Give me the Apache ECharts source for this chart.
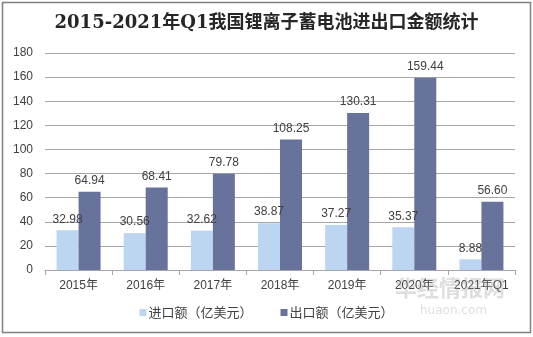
<!DOCTYPE html>
<html><head><meta charset="utf-8">
<script src="https://cdn.jsdelivr.net/npm/echarts@6/dist/echarts.min.js"></script>
<style>html,body{margin:0;padding:0;background:#fff}#c{width:533px;height:337px}</style>
</head><body><div id="c"></div>
<script>
var categories = ['2015年','2016年','2017年','2018年','2019年','2020年','2021年Q1'];
var importVals = [32.98, 30.56, 32.62, 38.87, 37.27, 35.37, 8.88];
var exportVals = [64.94, 68.41, 79.78, 108.25, 130.31, 159.44, 56.60];
var seriesNames = ['进口额（亿美元）', '出口额（亿美元）'];
var titleText = '2015-2021年Q1我国锂离子蓄电池进出口金额统计';

var chart = echarts.init(document.getElementById('c'), null, {renderer:'canvas'});
var lblStyle = {show:true, position:'top', distance:5, color:'#404040', fontSize:12,
  fontFamily:'Liberation Sans, Arial, sans-serif', formatter:function(p){return p.value.toFixed(2);}};
chart.setOption({
  animation:false,
  backgroundColor:'#fff',
  title:{text:titleText, left:'center', top:9,
    textStyle:{fontSize:18, fontWeight:'bold', color:'#262626', fontFamily:'DejaVu Serif, Noto Sans CJK SC, serif'}},
  grid:{left:45, right:18, top:53, bottom:67, containLabel:false},
  legend:{bottom:13, left:'center', itemWidth:7, itemHeight:7, itemGap:28, icon:'rect',
    textStyle:{fontSize:13, color:'#404040', fontFamily:'Noto Sans CJK SC, sans-serif', padding:[0,0,0,-3]},
    data:seriesNames},
  xAxis:{type:'category', data:categories,
    axisLine:{lineStyle:{color:'#a6a6a6'}},
    axisTick:{show:true, length:5, lineStyle:{color:'#a6a6a6'}},
    axisLabel:{color:'#404040', fontSize:12, margin:10, interval:0, fontFamily:'Liberation Sans, Noto Sans CJK SC, sans-serif'}},
  yAxis:{type:'value', min:0, max:180, interval:20,
    axisLine:{show:false}, axisTick:{show:false},
    splitLine:{lineStyle:{color:'#a6a6a6'}},
    axisLabel:{color:'#404040', fontSize:12, margin:12, fontFamily:'Liberation Sans, Arial, sans-serif'}},
  series:[
    {name:seriesNames[0], type:'bar', data:importVals, barWidth:22, barGap:'0%',
      itemStyle:{color:'#bcd5f0'}, label:lblStyle},
    {name:seriesNames[1], type:'bar', data:exportVals, barWidth:22,
      itemStyle:{color:'#68739c'}, label:lblStyle}
  ],
  graphic:[
    {type:'rect', shape:{x:2.5, y:2.5, width:528, height:330}, style:{fill:null, stroke:'#808080', lineWidth:1.5}, z:100},
    {type:'text', left:395, top:277, style:{text:'华经情报网', fontSize:22, fontWeight:'bold', fill:'rgba(160,160,160,0.35)', fontFamily:'Noto Sans CJK SC, sans-serif'}, z:50},
    {type:'text', left:420, top:305, style:{text:'huaon.com', fontSize:12, fill:'rgba(160,160,160,0.35)', fontFamily:'DejaVu Sans, sans-serif'}, z:50}
  ]
});
</script></body></html>
